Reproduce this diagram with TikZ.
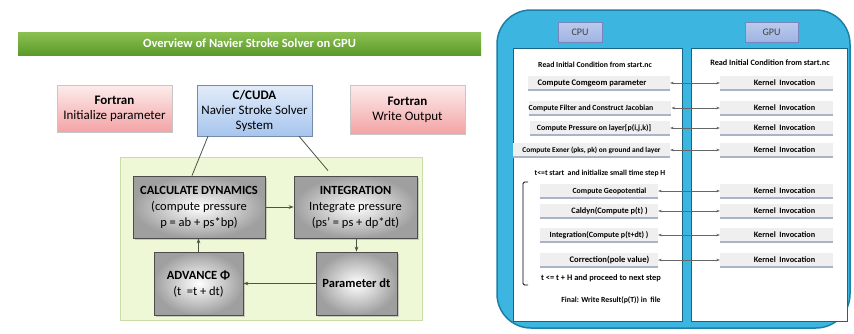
\documentclass[tikz,border=0pt]{standalone}
\usepackage{fontspec}
\setmainfont{Carlito}
\usepackage{tikz}
\usetikzlibrary{arrows.meta,shadows}
\usetikzlibrary{positioning}

\definecolor{bannerA}{HTML}{8CC152}
\definecolor{bannerB}{HTML}{5A9A2A}
\definecolor{pinkA}{HTML}{FDECEC}
\definecolor{pinkB}{HTML}{F3A3A5}
\definecolor{blueA}{HTML}{E2ECFA}
\definecolor{blueB}{HTML}{A7C5EE}
\definecolor{leaf}{HTML}{EEF7D6}
\definecolor{leafline}{HTML}{C9DDA6}
\definecolor{wire}{HTML}{4B5640}
\definecolor{sky}{HTML}{3CB6E0}
\definecolor{skyline}{HTML}{1D7FA6}
\definecolor{tag}{HTML}{9FB3E4}
\definecolor{tagline}{HTML}{7587BD}
\definecolor{slab}{HTML}{EFEFEF}
\definecolor{slabline}{HTML}{A8B4CA}

\newcommand\sz[1]{\fontsize{#1}{#1}\bfseries}

\tikzset{
    plain/.style={draw=gray!45, align=center, font=\fontsize{13}{15}\selectfont},
    fortbox/.style={plain, top color=pinkA, bottom color=pinkB},
    cudabox/.style={plain, draw=blueB!70!black, top color=blueA, bottom color=blueB},
    stagebox/.style={draw=black!70, thick, inner color=white, outer color=gray!75,
        drop shadow={opacity=0.35}, align=center, font=\fontsize{12.5}{16}\selectfont},
    tagbox/.style={draw=tagline, top color=tag!70, bottom color=tag, minimum height=20pt,
        text=black!75, font=\fontsize{10}{12}\selectfont},
    slabbox/.style={fill=slab, minimum height=14pt, inner sep=0pt, font=\sz{7.5},
        path picture={\draw[slabline, line width=1.3pt]
            (path picture bounding box.south west) -- (path picture bounding box.south east);}},
    note/.style={font=\sz{7.5}},
    flow/.style={wire, thick, -{Stealth[length=5pt]}},
    call/.style={black!60, {Stealth[length=3.5pt]}-{Stealth[length=3.5pt]}},
}

\begin{document}
\begin{tikzpicture}[x=1pt, y=-1pt]
    \useasboundingbox (0,0) rectangle (854,333);
    \fill[white] (0,0) rectangle (854,333);

    % overview of the solver
    \node[top color=bannerA, bottom color=bannerB, minimum width=463pt, minimum height=23pt,
        text=white, font=\fontsize{12.5}{14}\bfseries] (banner) at (249.5,43.5)
        {Overview of Navier Stroke Solver on GPU};
    \node[fortbox, minimum width=115pt, minimum height=47pt] (fortin) at (114.5,108.5)
        {\textbf{Fortran}\\Initialize parameter};
    \node[cudabox, minimum width=115pt, minimum height=51pt] (cuda) at (254.5,110.5)
        {\textbf{C/CUDA}\\Navier Stroke Solver\\System};
    \node[fortbox, minimum width=115pt, minimum height=49pt] (fortout) at (407.5,109.5)
        {\textbf{Fortran}\\Write Output};

    \fill[leaf, draw=leafline] (120,157) rectangle (422,320);

    \node[stagebox, minimum width=132pt, minimum height=62pt] (calc) at (199,207)
        {\textbf{CALCULATE DYNAMICS}\\(compute pressure\\p = ab + ps*bp)};
    \node[stagebox, minimum width=123pt, minimum height=62pt] (integ) at (355.5,207)
        {\textbf{INTEGRATION}\\Integrate pressure\\(ps' = ps + dp*dt)};
    \node[stagebox, minimum width=89pt, minimum height=63pt] (advance) at (198.5,283.5)
        {\textbf{ADVANCE Φ}\\(t~ =t + dt)};
    \node[stagebox, minimum width=81pt, minimum height=63pt] (paramdt) at (356.5,283.5)
        {\textbf{Parameter dt}};

    \draw[wire, thick] ([xshift=-46.5pt]cuda.south) -- ([xshift=-7pt]calc.north);
    \draw[wire, thick] ([xshift=44.5pt]cuda.south) -- ([xshift=-27.5pt,yshift=5pt]integ.north);
    \draw[flow] (integ.south -| paramdt.north) -- (paramdt.north);
    \draw[flow] (calc.east) -- (integ.west);
    \draw[flow] (paramdt.west) -- (advance.east);
    \draw[flow] (advance.north) -- (advance.north |- calc.south);

    % cpu / gpu split
    \draw[skyline, line width=1.5pt, fill=sky, rounded corners=34pt] (497,10) rectangle (850,328);
    \draw[skyline!80!black, fill=white] (513,48) rectangle (682,321);
    \draw[skyline!80!black, fill=white] (691,48) rectangle (847,321);
    \node[tagbox, minimum width=44pt] (cpu) at (580,32) {CPU};
    \node[tagbox, minimum width=53pt] (gpu) at (771.5,32) {GPU};

    \node[note, font=\sz{7.8}] (readc) at (595,65) {Read Initial Condition from start.nc};
    \node[note, font=\sz{8.2}] (readg) at (770,63) {Read Initial Condition from start.nc};

    \node[slabbox, minimum width=142pt, font=\sz{8.5}] (c1) at (599,83)
        {Compute Comgeom parameter\hspace*{14pt}};
    \node[slabbox, minimum width=140pt, font=\sz{7.8}] (c2) at (600,108)
        {Compute Filter and Construct Jacobian\hspace*{18pt}};
    \node[slabbox, minimum width=140pt, font=\sz{7.9}] (c3) at (600,128)
        {Compute Pressure on layer[p(i,j,k)]\hspace*{12pt}};
    \node[slabbox, minimum width=157pt, font=\sz{7.4}] (c4) at (591.5,150)
        {Compute Exner (pks, pk) on ground and layer};
    \node[note, font=\sz{7.7}] (start) at (600,173) {t<=t start~ and initialize small time step H};
    \node[slabbox, minimum width=118pt, font=\sz{7.8}] (c5) at (599,191)
        {\hspace*{21pt}Compute Geopotential};
    \node[slabbox, minimum width=118pt, font=\sz{8.3}] (c6) at (599,211)
        {\hspace*{21pt}Caldyn(Compute p(t) )};
    \node[slabbox, minimum width=118pt, font=\sz{8}] (c7) at (599,235)
        {Integration(Compute p(t+dt) )};
    \node[slabbox, minimum width=118pt, font=\sz{8.6}] (c8) at (599,260)
        {\hspace*{21pt}Correction(pole value)};
    \node[note, font=\sz{8.4}] (next) at (601,278) {t <= t + H and proceed to next step};
    \node[note, font=\sz{7.8}] (final) at (611,300) {Final: Write Result(p(T)) in~ file};
    \draw[thick, rounded corners=1.5pt] (528,182) -- (523,182) -- (523,285) -- (528,285);

    \foreach \i/\y in {1/83, 2/108, 3/128, 4/150, 5/191, 6/211, 7/235, 8/260} {
        \node[slabbox, minimum width=113pt, font=\sz{8.2}] (k\i) at (776.5,\y)
            {\hspace*{16pt}Kernel~ Invocation};
        \draw[call] (c\i.east) -- (k\i.west);
    }
\end{tikzpicture}
\end{document}
